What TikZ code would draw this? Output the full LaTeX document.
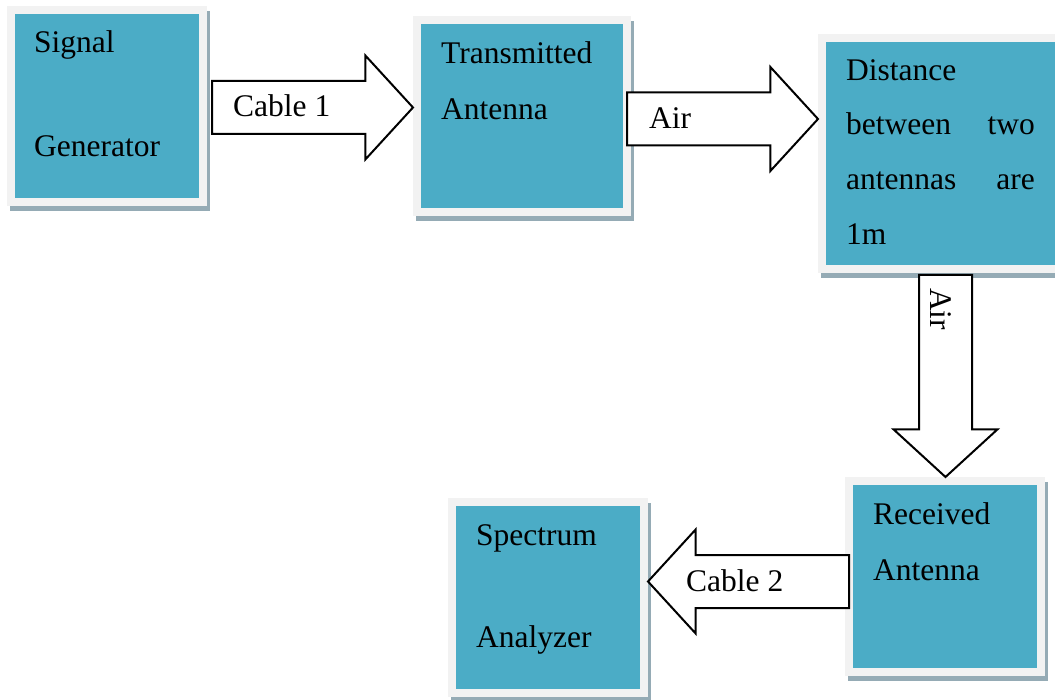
\documentclass[tikz,border=0pt]{standalone}
\usepackage{fontspec}
\setmainfont{Liberation Serif}
\usepackage{tikz}
\usetikzlibrary{shapes.arrows, shadows, positioning}

\definecolor{boxteal}{RGB}{75,172,198}
\definecolor{boxframe}{RGB}{242,242,242}
\definecolor{boxshadow}{RGB}{149,171,181}

\begin{document}
\begin{tikzpicture}[
        x=1pt, y=-1pt,
        block/.style={fill=boxteal, draw=boxframe, line width=8pt, inner sep=0pt, outer sep=0pt,
            drop shadow={shadow xshift=2.5pt, shadow yshift=-5pt, fill=boxshadow, draw=boxshadow, opacity=1}},
        fatarrow/.style={single arrow, draw=black, line width=2pt, fill=white, inner xsep=0pt, inner ysep=25.5pt,
            outer sep=0pt, minimum width=102pt, single arrow head extend=25.5pt, single arrow tip angle=95, anchor=tip},
        txt/.style={inner sep=0pt, font=\fontsize{31.5}{37}\selectfont}
    ]
    \clip (0,0) rectangle (1055,700);

    % Signal Generator
    \node[block, minimum width=192pt, minimum height=192pt] (siggen) at (107,106) {};
    \node[txt, anchor=base west] (siggen1) at (34,53) {Signal};
    \node[txt, anchor=base west] (siggen2) at (34,157) {Generator};

    % Transmitted Antenna
    \node[block, minimum width=210pt, minimum height=192pt] (txant) at (522,116) {};
    \node[txt, anchor=base west] (txant1) at (441,64) {Transmitted};
    \node[txt, anchor=base west] (txant2) at (441,120) {Antenna};

    % Distance box (runs off the right edge)
    \node[block, minimum width=246pt, minimum height=231pt] (dist) at (945,153.5) {};
    \node[txt, anchor=base west] (dist1) at (846,81) {Distance};
    \node[txt, anchor=base west] (dist2) at (846,135) {between};
    \node[txt, anchor=base east] (dist3) at (1035,135) {two};
    \node[txt, anchor=base west] (dist4) at (846,190) {antennas};
    \node[txt, anchor=base east] (dist5) at (1035,190) {are};
    \node[txt, anchor=base west] (dist6) at (846,245) {1m};

    % Received Antenna
    \node[block, minimum width=192pt, minimum height=191pt] (rxant) at (945,576.5) {};
    \node[txt, anchor=base west] (rxant1) at (873,524) {Received};
    \node[txt, anchor=base west] (rxant2) at (873,580) {Antenna};

    % Spectrum Analyzer
    \node[block, minimum width=192pt, minimum height=191pt] (specan) at (548,597.5) {};
    \node[txt, anchor=base west] (specan1) at (476,545) {Spectrum};
    \node[txt, anchor=base west] (specan2) at (476,647) {Analyzer};

    % Block arrows
    \node[fatarrow, minimum height=201pt] (cable1) at (413,107.5) {};
    \node[txt, anchor=base west] (cable1-txt) at (233,117) {Cable 1};

    \node[fatarrow, minimum height=191pt] (air1) at (818,119) {};
    \node[txt, anchor=base west] (air1-txt) at (649,129) {Air};

    \node[fatarrow, minimum height=202pt, rotate=-90] (air2) at (945.5,477) {};
    \node[txt, anchor=base west, rotate=-90] (air2-txt) at (930,288) {Air};

    \node[fatarrow, minimum height=201pt, rotate=180] (cable2) at (648,581.5) {};
    \node[txt, anchor=base west] (cable2-txt) at (686,591) {Cable 2};

\end{tikzpicture}
\end{document}
